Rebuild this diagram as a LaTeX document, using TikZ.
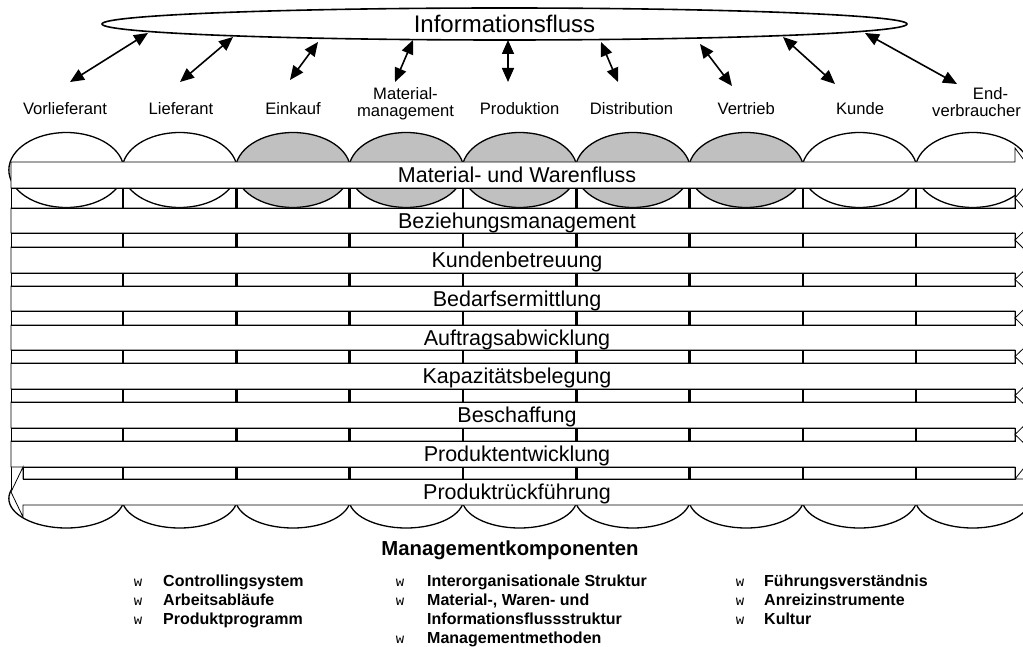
\documentclass[tikz,border=0pt]{standalone}
\usepackage{fontspec}
\setmainfont{Liberation Sans}
\newfontfamily\markfont{Liberation Mono}
\usetikzlibrary{arrows.meta,shapes.geometric}
\definecolor{cellgray}{RGB}{192,192,192}

% two centred lines, baseline of the node = baseline of the last line
\newcommand{\twolines}[2]{\begin{tabular}[b]{@{}c@{}}#1\\#2\end{tabular}}

\begin{document}
\begin{tikzpicture}[x=1pt,y=-1pt,
  flow/.style={draw=black,fill=white,line width=0.8pt},
  cell/.style={draw=black,line width=0.8pt},
  divider/.style={draw=black,line width=2.6pt},
  lane/.style={draw=black,line width=1.3pt},
  bandtext/.style={font=\fontsize{21.5}{24}\selectfont,anchor=base,inner sep=0pt},
  collabel/.style={font=\fontsize{16.6}{16.5}\selectfont,anchor=base,inner sep=0pt},
  link/.style={{Triangle[length=14pt,width=12pt]}-{Triangle[length=14pt,width=12pt]},line width=1.6pt},
  item/.style={font=\bfseries\fontsize{16}{19}\selectfont,anchor=base west,inner sep=0pt},
  bulletmark/.style={font=\markfont\fontsize{14}{15}\selectfont,anchor=base,inner sep=0pt},
]
\useasboundingbox (0,0) rectangle (1023,647);
\clip (0,0) rectangle (1023,647);

% ---------- columns: upper and lower ellipses ----------
\foreach \i/\f in {0/white,1/white,2/cellgray,3/cellgray,4/cellgray,5/cellgray,6/cellgray,7/white,8/white}
  \draw[lane,fill=\f] ({9.7+113.3*(\i+0.5)},170) ellipse [x radius=57.5, y radius=37.5];
\foreach \i in {0,...,8}
  \draw[lane,fill=white] ({9.7+113.3*(\i+0.5)},498.5) ellipse [x radius=57.5, y radius=29.5];

% ---------- white body behind the process lanes ----------
\draw[flow] (11,208) rectangle (1015,492);

% ---------- process flows (block arrows to the right) ----------
\foreach \yt/\yb/\yu/\yd/\txt [count=\n] in {
    162/188/148/198/{Material- und Warenfluss},
    208/233/198/240/{Beziehungsmanagement},
    247/273/240/279.5/{Kundenbetreuung},
    286/311/279.5/318/{Bedarfsermittlung},
    325/350/318/356.5/{Auftragsabwicklung},
    363/389/356.5/395.5/{Kapazitätsbelegung},
    402/428/395.5/434.5/{Beschaffung},
    441/467/434.5/479/{Produktentwicklung}}
{
  \draw[flow] (11,\yt) -- (1015,\yt) -- (1015,\yu) -- (1035,{(\yt+\yb)/2})
              -- (1015,\yd) -- (1015,\yb) -- (11,\yb) -- cycle;
  \node[bandtext] (band\n) at (517,{(\yt+\yb)/2+7.7}) {\txt};
}

% ---------- return flow (block arrow to the left) ----------
\draw[flow] (1040,479) -- (23,479) -- (23,467) -- (11,492) -- (23,517)
            -- (23,505) -- (1040,505) -- cycle;
\node[bandtext] (band9) at (517,{492+7.7}) {Produktrückführung};

% ---------- cell strips with column dividers ----------
\foreach \yt/\yb/\xl in {188/208/11,233/247/11,273/286/11,311/325/11,
                       350/363/11,389/402/11,428/441/11,467/479/23}
{
  \draw[cell] (\xl,\yt) rectangle (1015,\yb);
  \foreach \i in {1,...,8}
    \draw[divider] ({9.7+113.3*\i},\yt) -- ({9.7+113.3*\i},\yb);
}

% ---------- information flow ----------
\node[ellipse,draw,line width=1.6pt,minimum width=805pt,minimum height=32pt,
      inner sep=0pt,font=\fontsize{24}{25}\selectfont] (info) at (504.5,24) {Informationsfluss};

% ---------- partners / functions ----------
\node[collabel] (c1) at (65,115) {Vorlieferant};
\node[collabel] (c2) at (181,115) {Lieferant};
\node[collabel] (c3) at (293,115) {Einkauf};
\node[collabel] (c4) at (405.5,116.5) {\twolines{Material-}{management}};
\node[collabel] (c5) at (519.6,115) {Produktion};
\node[collabel] (c6) at (631.5,115) {Distribution};
\node[collabel] (c7) at (746.2,115) {Vertrieb};
\node[collabel] (c8) at (860,115) {Kunde};
\node[collabel] (c9) at (976.5,116.5) {\twolines{\hspace*{28pt}End-}{verbraucher}};

% arrow ends
\coordinate (dn1) at (70,82);   \coordinate (up1) at (148,33);
\coordinate (dn2) at (180,82);  \coordinate (up2) at (233,37);
\coordinate (dn3) at (290,80);  \coordinate (up3) at (318,42);
\coordinate (dn4) at (395,82);  \coordinate (up4) at (413,40);
\coordinate (dn5) at (508,82);  \coordinate (up5) at (508,40);
\coordinate (dn6) at (618,82);  \coordinate (up6) at (601,42);
\coordinate (dn7) at (732,86);  \coordinate (up7) at (700,44);
\coordinate (dn8) at (835,84);  \coordinate (up8) at (783,37);
\coordinate (dn9) at (957,84);  \coordinate (up9) at (865,33);
\foreach \k in {1,...,9}
  \draw[link] (dn\k) -- (up\k);

% ---------- management components ----------
\node[font=\bfseries\fontsize{20.3}{21}\selectfont,anchor=base,inner sep=0pt] (mgmt) at (510,555) {Managementkomponenten};

\node[bulletmark] (m11) at (138,586.5) {w};
\node[bulletmark] (m12) at (138,605.5) {w};
\node[bulletmark] (m13) at (138,624.5) {w};
\node[item] (i11) at (163,586.5) {Controllingsystem};
\node[item] (i12) at (163,605.5) {Arbeitsabläufe};
\node[item] (i13) at (163,624.5) {Produktprogramm};

\node[bulletmark] (m21) at (400,586.5) {w};
\node[bulletmark] (m22) at (400,605.5) {w};
\node[bulletmark] (m24) at (400,643.3) {w};
\node[item] (i21) at (427,586.5) {Interorganisationale Struktur};
\node[item] (i22) at (427,605.5) {Material-, Waren- und};
\node[item] (i23) at (427,624.5) {Informationsflussstruktur};
\node[item] (i24) at (427,643.3) {Managementmethoden};

\node[bulletmark] (m31) at (740,586.5) {w};
\node[bulletmark] (m32) at (740,605.5) {w};
\node[bulletmark] (m33) at (740,624.5) {w};
\node[item] (i31) at (764,586.5) {Führungsverständnis};
\node[item] (i32) at (764,605.5) {Anreizinstrumente};
\node[item] (i33) at (764,624.5) {Kultur};
\end{tikzpicture}
\end{document}
